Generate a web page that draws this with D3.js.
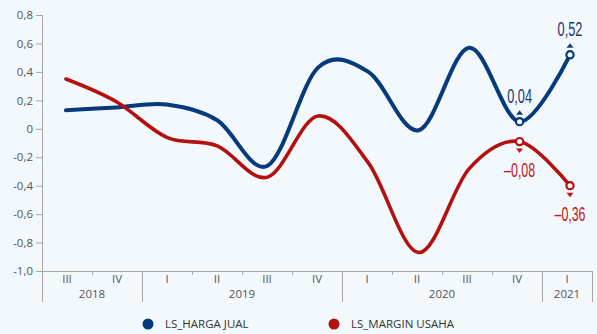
<!DOCTYPE html>
<html>
<head>
<meta charset="utf-8">
<script src="https://cdn.jsdelivr.net/npm/d3@7"></script>
<style>
  html, body { margin: 0; padding: 0; background: #f2f8fc; }
  svg { display: block; }
</style>
</head>
<body>
<div id="chart"></div>
<script>
(function () {
  'use strict';

  // Quarters and years
  const QUARTERS = ['III', 'IV', 'I', 'II', 'III', 'IV', 'I', 'II', 'III', 'IV', 'I'];
  const YEARS = ['2018', '2018', '2019', '2019', '2019', '2019', '2020', '2020', '2020', '2020', '2021'];

  // Series values
  const HARGA_JUAL = [0.13, 0.15, 0.17, 0.06, -0.26, 0.43, 0.40, -0.01, 0.57, 0.05, 0.52];
  const MARGIN_USAHA = [0.35, 0.19, -0.06, -0.12, -0.34, 0.09, -0.24, -0.87, -0.28, -0.09, -0.40];

  // Value labels on the last two points
  const HARGA_LABELS = [null, null, null, null, null, null, null, null, null, '0,04', '0,52'];
  const MARGIN_LABELS = [null, null, null, null, null, null, null, null, null, '–0,08', '–0,36'];

  const Y_TICKS = [-1.0, -0.8, -0.6, -0.4, -0.2, 0, 0.2, 0.4, 0.6, 0.8];

  const SERIES = [
    { name: 'LS_HARGA JUAL', values: HARGA_JUAL, labels: HARGA_LABELS, color: '#063a7c', text: '#1d3a6d', width: 4, up: true },
    { name: 'LS_MARGIN USAHA', values: MARGIN_USAHA, labels: MARGIN_LABELS, color: '#b3100f', text: '#c0151b', width: 3.6, up: false }
  ];

  const W = 597, H = 334;
  const svg = d3.select('#chart').append('svg')
    .attr('width', W).attr('height', H);

  const idx = d3.range(QUARTERS.length);
  const xBand = d3.scaleBand().domain(idx).range([42, 592]);
  const xPt = d3.scalePoint().domain(idx).range([66, 570]);
  const y = d3.scaleLinear().domain([-1.0, 0.8]).range([271, 15]);

  const axisFont = "'Open Sans', 'DejaVu Sans', sans-serif";
  const axisColor = '#a6a6a6';

  // --- Y axis ---
  const yAxis = svg.append('g').attr('transform', 'translate(42,0)')
    .call(d3.axisLeft(y).tickValues(Y_TICKS).tickSize(6).tickPadding(3)
      .tickFormat(d => d === 0 ? '0' : d3.format('.1f')(d).replace('.', ',').replace('−', '-')));
  yAxis.select('.domain').remove();
  yAxis.selectAll('line').attr('stroke', axisColor);
  yAxis.selectAll('text').attr('fill', '#555').attr('font-size', 11.5).attr('font-family', axisFont);

  // Vertical axis line down to bottom of category rows
  svg.append('line')
    .attr('x1', 42.5).attr('x2', 42.5).attr('y1', y(0.8)).attr('y2', 302)
    .attr('stroke', axisColor);

  // --- X axis ---
  svg.append('line')
    .attr('x1', 42).attr('x2', 592).attr('y1', 271.5).attr('y2', 271.5)
    .attr('stroke', axisColor);

  idx.forEach(i => {
    const x0 = xBand(i);
    const x1 = x0 + xBand.bandwidth();
    const last = i === idx.length - 1;
    const yearEnd = last || YEARS[i + 1] !== YEARS[i];
    svg.append('line')
      .attr('x1', Math.round(x1) + 0.5).attr('x2', Math.round(x1) + 0.5)
      .attr('y1', 271).attr('y2', yearEnd ? 302 : 275)
      .attr('stroke', axisColor);
    svg.append('text')
      .attr('x', x0 + xBand.bandwidth() / 2).attr('y', 283)
      .attr('text-anchor', 'middle')
      .attr('fill', '#555').attr('font-size', 11.5).attr('font-family', axisFont)
      .text(QUARTERS[i]);
  });

  // Year group labels
  const years = Array.from(new Set(YEARS));
  years.forEach(yr => {
    const members = idx.filter(i => YEARS[i] === yr);
    const x0 = xBand(members[0]);
    const x1 = xBand(members[members.length - 1]) + xBand.bandwidth();
    svg.append('text')
      .attr('x', (x0 + x1) / 2).attr('y', 298)
      .attr('text-anchor', 'middle')
      .attr('fill', '#555').attr('font-size', 11.5).attr('font-family', axisFont)
      .text(yr);
  });

  // --- Lines ---
  const line = d3.line()
    .x((d, i) => xPt(i))
    .y(d => y(d))
    .curve(d3.curveCatmullRom.alpha(0));

  SERIES.forEach(s => {
    svg.append('path')
      .datum(s.values)
      .attr('fill', 'none')
      .attr('stroke', s.color)
      .attr('stroke-width', s.width)
      .attr('stroke-linecap', 'round')
      .attr('d', line);
  });

  // --- Markers and value labels ---
  const labelFont = "'Liberation Sans Narrow', 'Liberation Sans', sans-serif";
  SERIES.forEach(s => {
    s.labels.forEach((lab, i) => {
      if (!lab) return;
      const cx = xPt(i);
      const cy = y(s.values[i]);

      svg.append('circle')
        .attr('cx', cx).attr('cy', cy).attr('r', 3.6)
        .attr('fill', '#fff').attr('stroke', s.color).attr('stroke-width', 2.2);

      const ty = s.up ? cy - 9 : cy + 9;
      const tri = s.up
        ? `M${cx - 3.5},${ty + 2} L${cx + 3.5},${ty + 2} L${cx},${ty - 2.5} Z`
        : `M${cx - 3.5},${ty - 2} L${cx + 3.5},${ty - 2} L${cx},${ty + 2.5} Z`;
      svg.append('path').attr('d', tri).attr('fill', s.text);

      // condensed look: squeeze the text horizontally to ~6.2px per glyph
      const g = svg.append('g')
        .attr('transform', `translate(${cx},${s.up ? cy - 19 : cy + 35})`);
      const t = g.append('text')
        .attr('text-anchor', 'middle')
        .attr('fill', s.text)
        .attr('font-size', 21)
        .attr('font-family', labelFont)
        .text(lab);
      const natural = t.node().getComputedTextLength() || 1;
      const sx = (lab.length * 6.2) / natural;
      t.attr('transform', `scale(${sx},1)`);
    });
  });

  // --- Legend ---
  const legendX = [148, 334];
  SERIES.forEach((s, i) => {
    svg.append('circle')
      .attr('cx', legendX[i]).attr('cy', 324).attr('r', 5.5)
      .attr('fill', s.color);
    svg.append('text')
      .attr('x', legendX[i] + 17).attr('y', 328)
      .attr('fill', '#333').attr('font-size', 11.5).attr('font-family', axisFont)
      .text(s.name);
  });
})();
</script>
</body>
</html>
